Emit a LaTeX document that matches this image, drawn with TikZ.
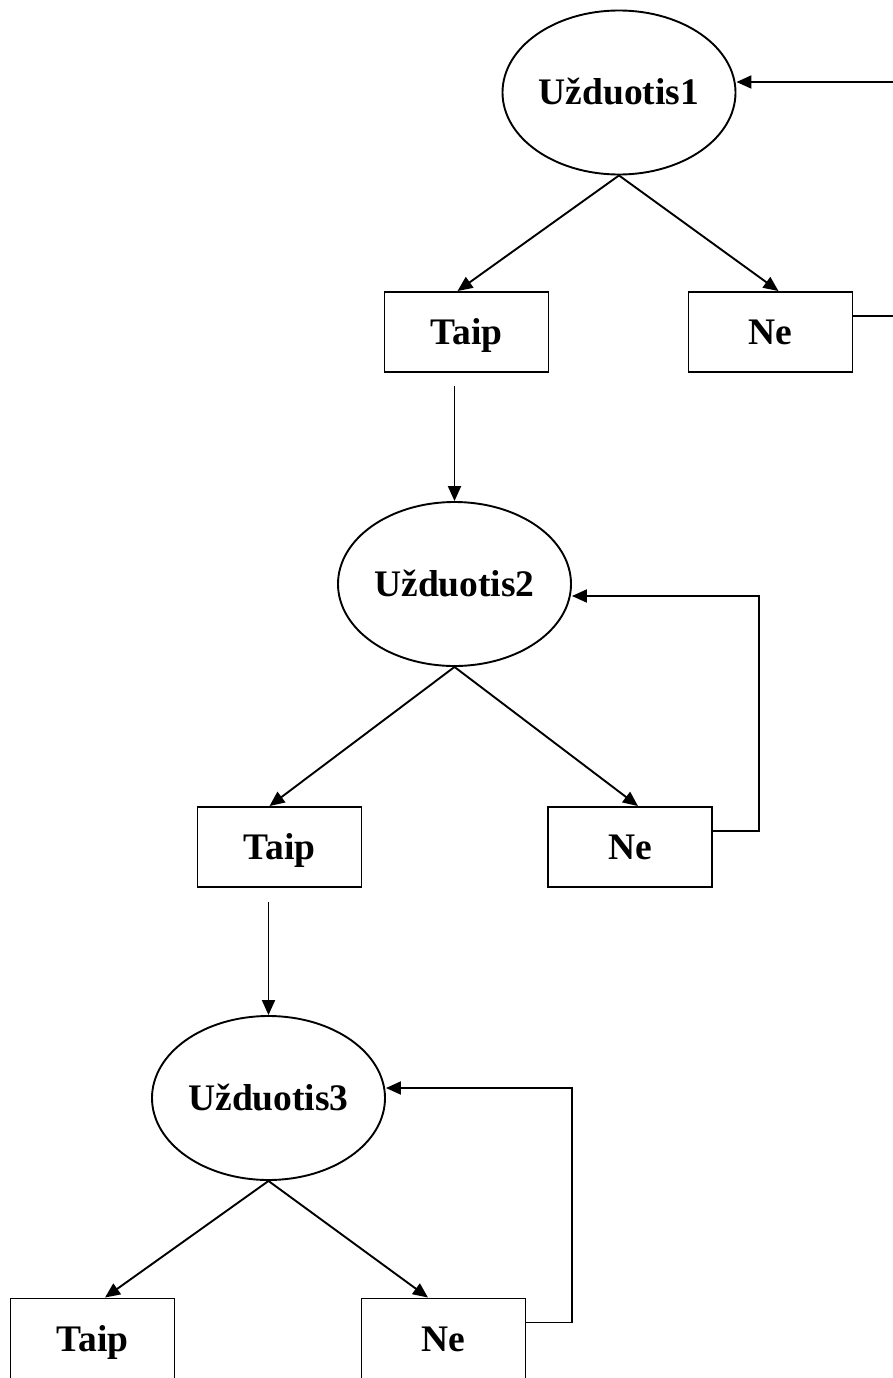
\documentclass[tikz,border=0pt]{standalone}
\usepackage{fontspec}
\setmainfont{Liberation Serif}
\usetikzlibrary{shapes.geometric,arrows.meta,calc}
\begin{document}
\begin{tikzpicture}[x=1pt,y=-1pt,
  line width=1.9pt,
  every node/.style={font=\fontsize{37.5}{40}\selectfont\bfseries,
    text height=25pt, text depth=0pt, inner sep=0pt},
  task/.style={draw, ellipse, minimum width=233pt, minimum height=164pt},
  answer/.style={draw, rectangle, minimum width=164pt, minimum height=80pt},
  link/.style={-{Triangle[length=15pt,width=13pt]}}
]
\useasboundingbox (0,0) rectangle (893,1378);
\fill[white] (0,0) rectangle (893,1378);
\clip (0,0) rectangle (893,1378);

% tasks
\node[task] (e1) at (619,92.5) {Užduotis1};
\node[task] (e2) at (454.5,584) {Užduotis2};
\node[task] (e3) at (268.5,1098) {Užduotis3};

% answers
\node[answer] (t1) at (466.5,332) {Taip};
\node[answer] (n1) at (770.5,332) {Ne};
\node[answer] (t2) at (279.5,847) {Taip};
\node[answer] (n2) at (630,847) {Ne};
\node[answer] (t3) at (92.5,1338.5) {Taip};
\node[answer] (n3) at (443.5,1338.5) {Ne};

% branches
\draw[link] (e1.south) -- ($(t1.north)+(-9,0)$);
\draw[link] (e1.south) -- ($(n1.north)+(8,0)$);
\draw[link] (e2.south) -- ($(t2.north)+(-10,0)$);
\draw[link] (e2.south) -- ($(n2.north)+(8,0)$);
\draw[link] (e3.south) -- ($(t3.north)+(12.5,0)$);
\draw[link] (e3.south) -- ($(n3.north)+(-15.5,0)$);

% "yes" leads to the next task
\draw[link] ($(t1.south -| e2.north)+(0,13)$) -- (e2.north);
\draw[link] ($(t2.south -| e3.north)+(0,14)$) -- (e3.north);

% "no" loops back to the same task
\coordinate (c1) at (930,82);
\coordinate (c2) at (759,596);
\coordinate (c3) at (572,1088);
\draw[link] ($(n1.east)+(0,-16)$) -| (c1) -- (e1.east |- c1);
\draw[link] ($(n2.east)+(0,-16)$) -| (c2) -- (e2.east |- c2);
\draw[link] ($(n3.east)+(0,-16)$) -| (c3) -- (e3.east |- c3);
\end{tikzpicture}
\end{document}
